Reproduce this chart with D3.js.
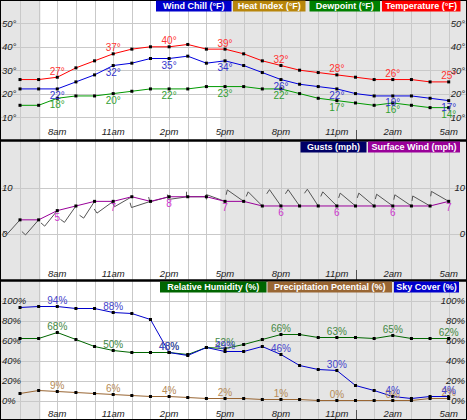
<!DOCTYPE html>
<html><head><meta charset="utf-8">
<script src="https://cdn.jsdelivr.net/npm/d3@7"></script>
<style>
html,body{margin:0;padding:0;background:#fff;}
svg{display:block;font-family:"Liberation Sans",Arial,sans-serif;}
</style></head><body>
<svg id="c" width="467" height="420"></svg>
<script>
// ---- data ----
const hours = ["6am","7am","8am","9am","10am","11am","12pm","1pm","2pm","3pm","4pm","5pm",
               "6pm","7pm","8pm","9pm","10pm","11pm","12am","1am","2am","3am","4am","5am"];
const tickLabels = ["8am","11am","2pm","5pm","8pm","11pm","2am","5am"];
const tickIndex = [2,5,8,11,14,17,20,23];
const temperature = [26,26,27,31,34,37,39,40,40,41,39,39,37,34,32,30,29,28,27,26,26,26,25,25];
const windChill   = [22,22,22,25,28,32,33,35,35,36,33,34,32,29,26,24,23,22,20,19,19,19,18,17];
const dewpoint    = [15,15,18,19,19,20,21,22,22,22,23,23,23,22,22,20,18,17,16,15,16,15,14,14];
const surfaceWind = [3,3,5,6,7,7,8,7,8,8,8,7,7,6,6,6,6,6,6,6,6,6,6,7];
const windDir     = [222,221,219,215,213,234,240,252,255,262,270,290,305,315,325,325,327,315,310,310,306,304,300,300];
const humidity    = [62,62,68,61,54,50,48,48,48,46,53,52,56,61,66,66,63,63,63,62,65,62,62,62];
const skyCover    = [93,94,94,92,92,88,87,81,48,45,53,49,49,54,46,35,31,30,15,10,4,2,4,4];
const precip      = [7,10,9,8,7,6,5,4,4,3,2,2,2,1,1,1,0,0,0,0,0,0,2,2];
const tempTicks = [10,20,30,40,50];
const windTicks = [0,10];
const pctTicks  = [0,20,40,60,80,100];
const nightEndMorning = 1.1;  // hours after 6am
const nightStartEvening = 10.75;

// ---- layout ----
const W = 467, H = 420;
const svg = d3.select("#c");
const x = d3.scaleLinear().domain([0,23]).range([20,448.7]);
const panels = [
  {top:0, bottom:140},
  {top:141, bottom:280},
  {top:281, bottom:420}
];
const yT = d3.scaleLinear().domain([10,50]).range([117,23.4]);
const yW = d3.scaleLinear().domain([0,10]).range([233.7,187.5]);
const yP = d3.scaleLinear().domain([0,100]).range([400.5,300.5]);

const gridColor = "#c9c9c9", nightColor = "#e5e5e5";

panels.forEach(p=>{
  svg.append("rect").attr("x",0).attr("y",p.top).attr("width",W).attr("height",p.bottom-p.top).attr("fill","#fff");
  svg.append("rect").attr("x",0).attr("y",p.top).attr("width",x(nightEndMorning)).attr("height",p.bottom-p.top).attr("fill",nightColor);
  svg.append("rect").attr("x",x(nightStartEvening)).attr("y",p.top).attr("width",W-x(nightStartEvening)).attr("height",p.bottom-p.top).attr("fill",nightColor);
  svg.append("g").selectAll("line").data(hours).join("line")
    .attr("x1",(d,i)=>Math.round(x(i))+0.5).attr("x2",(d,i)=>Math.round(x(i))+0.5)
    .attr("y1",p.top).attr("y2",p.bottom).attr("stroke",gridColor).attr("stroke-width",1);
});
function hgrid(scale, ticks){
  svg.append("g").selectAll("line").data(ticks).join("line")
    .attr("x1",0).attr("x2",W).attr("y1",d=>Math.round(scale(d))+0.5).attr("y2",d=>Math.round(scale(d))+0.5)
    .attr("stroke",gridColor);
}
hgrid(yT,tempTicks); hgrid(yW,windTicks); hgrid(yP,pctTicks);

panels.forEach(p=>{
  svg.append("line").attr("x1",Math.round(x(18))+0.5).attr("x2",Math.round(x(18))+0.5)
    .attr("y1",p.bottom-10).attr("y2",p.bottom).attr("stroke","#555");
});

const xLab = [134.5, 276.5, 417];
xLab.forEach(yy=>{
  svg.append("g").selectAll("text").data(tickLabels).join("text")
    .attr("x",(d,i)=>x(tickIndex[i])).attr("y",yy).attr("text-anchor","middle")
    .attr("font-size",9.5).attr("font-style","italic").attr("fill","#222").text(d=>d);
});
function yLabels(scale, ticks, fmt){
  const g = svg.append("g").attr("font-size",9.5).attr("font-style","italic").attr("fill","#222");
  g.selectAll("text.l").data(ticks).join("text").attr("class","l")
    .attr("x",2).attr("y",d=>scale(d)+3.5).text(fmt);
  g.selectAll("text.r").data(ticks).join("text").attr("class","r")
    .attr("x",465).attr("text-anchor","end").attr("y",d=>scale(d)+3.5).text(fmt);
}
yLabels(yT,tempTicks,d=>d+"°");
yLabels(yW,windTicks,d=>d);
yLabels(yP,pctTicks,d=>d+"%");

// wind barbs: shaft toward the direction the wind comes from, half barb at the tip
const barbG = svg.append("g").attr("stroke","#555").attr("fill","none").attr("stroke-width",1);
surfaceWind.forEach((s,i)=>{
  const a = windDir[i]*Math.PI/180;
  const sx = Math.sin(a), sy = -Math.cos(a);
  const L = 20, bl = 5;
  const x0 = x(i), y0 = yW(s);
  const x1 = x0 + sx*L, y1 = y0 + sy*L;
  const turn = windDir[i] < 288 ? 92 : -112;
  const ang = Math.atan2(sy,sx) + turn*Math.PI/180;
  const x2 = x1 + Math.cos(ang)*bl, y2 = y1 + Math.sin(ang)*bl;
  barbG.append("path").attr("d",`M${x0},${y0}L${x1},${y1}L${x2},${y2}`);
});

function series(vals, scale, color, labelColor, fmt, dy){
  const line = d3.line().x((d,i)=>x(i)).y(d=>scale(d));
  svg.append("path").datum(vals).attr("d",line).attr("fill","none").attr("stroke",color).attr("stroke-width",1);
  svg.append("g").selectAll("rect").data(vals).join("rect")
    .attr("x",(d,i)=>x(i)-1.5).attr("y",d=>scale(d)-1.5).attr("width",3).attr("height",3).attr("fill","#000");
  return ()=>svg.append("g").selectAll("text").data(tickIndex).join("text")
    .attr("x",i=>x(i)).attr("y",i=>scale(vals[i])+dy).attr("text-anchor","middle")
    .attr("font-size",10).attr("fill",labelColor).text(i=>fmt(vals[i]));
}
const labs = [];
labs.push(series(dewpoint,yT,"#009900","#33a033",d=>d+"°",10));
labs.push(series(windChill,yT,"#0000dd","#3333cc",d=>d+"°",10));
labs.push(series(temperature,yT,"#ff0000","#ff3333",d=>d+"°",-2.5));
labs.push(series(surfaceWind,yW,"#990099","#cc33cc",d=>d,10));
labs.push(series(precip,yP,"#996633","#b58a55",d=>d+"%",-2.5));
labs.push(series(humidity,yP,"#006600","#448844",d=>d+"%",-2.5));
labs.push(series(skyCover,yP,"#0000cc","#4444cc",d=>d+"%",-2.5));
labs.forEach(f=>f());

svg.append("rect").attr("x",0.5).attr("y",0.5).attr("width",W-1).attr("height",H-1).attr("fill","none").attr("stroke","#000");
[140.5, 280.5].forEach(yy=>svg.append("line").attr("x1",0).attr("x2",W).attr("y1",yy).attr("y2",yy).attr("stroke","#000").attr("stroke-width",2.5));

function legend(items, top){
  items.forEach(it=>{
    svg.append("rect").attr("x",it.x0).attr("y",top).attr("width",it.x1-it.x0).attr("height",11).attr("fill",it.bg);
    svg.append("text").attr("x",(it.x0+it.x1)/2).attr("y",top+8.8).attr("text-anchor","middle")
      .attr("font-size",9).attr("font-weight","bold").attr("fill","#fff").text(it.t);
  });
}
legend([
  {t:"Wind Chill (°F)",x0:156,x1:231.5,bg:"#0000cc"},
  {t:"Heat Index (°F)",x0:233,x1:305.5,bg:"#b8860b"},
  {t:"Dewpoint (°F)",x0:309.5,x1:380,bg:"#008000"},
  {t:"Temperature (°F)",x0:382,x1:460.5,bg:"#ff0000"}
],0.5);
legend([
  {t:"Gusts (mph)",x0:300.5,x1:366.5,bg:"#000066"},
  {t:"Surface Wind (mph)",x0:368,x1:460,bg:"#990099"}
],141.5);
legend([
  {t:"Relative Humidity (%)",x0:160,x1:266.5,bg:"#006600"},
  {t:"Precipitation Potential (%)",x0:267.5,x1:392,bg:"#996633"},
  {t:"Sky Cover (%)",x0:394,x1:459,bg:"#0000cc"}
],281.5);
</script></body></html>
